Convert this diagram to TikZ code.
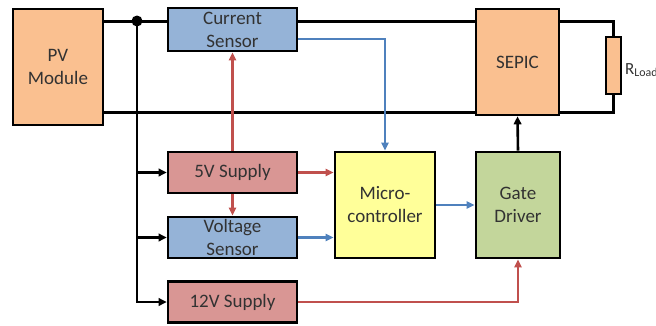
\documentclass[tikz,border=0pt]{standalone}
\usepackage{fontspec}
\setmainfont{Carlito}
\usepackage{xcolor}
\usetikzlibrary{arrows.meta}

\definecolor{pvorange}{RGB}{250,192,144}
\definecolor{sensblue}{RGB}{149,179,215}
\definecolor{supred}{RGB}{217,150,148}
\definecolor{mcyellow}{RGB}{255,255,153}
\definecolor{gdgreen}{RGB}{195,214,155}
\definecolor{linered}{RGB}{192,80,77}
\definecolor{lineblue}{RGB}{79,129,189}
\definecolor{txtgray}{RGB}{50,50,50}

\tikzset{
  blk/.style={draw=black, line width=2.6pt, text=txtgray, align=center,
    font=\fontsize{19}{23}\selectfont, inner sep=0pt},
  wire/.style={line width=3pt, line cap=rect},
  pwr/.style={draw=linered, line width=2.2pt, -{Triangle[length=8pt,width=7pt]}},
  sig/.style={draw=lineblue, line width=2.2pt, -{Triangle[length=8pt,width=7pt]}},
  feed/.style={line width=2.6pt, -{Triangle[length=8pt,width=7.5pt]}}
}

\begin{document}
\begin{tikzpicture}[x=1pt, y=-1pt]
  \clip (0,0) rectangle (656,325);
  \useasboundingbox (0,0) rectangle (656,325);

  % Power stage
  \node[blk, fill=pvorange, minimum width=90, minimum height=116] (pv) at (58,67) {PV\\Module};
  \node[blk, fill=pvorange, minimum width=83, minimum height=106] (sepic) at (517.5,62) {SEPIC};
  \node[blk, fill=pvorange, line width=2pt, minimum width=15, minimum height=57] (rload) at (613,65.5) {};
  \node[text=txtgray, font=\fontsize{17}{20}\selectfont, anchor=west, inner sep=0pt] (rlabel) at (625,70) {R\textsubscript{Load}};

  % Sensors and supplies
  \node[blk, fill=sensblue, minimum width=129, minimum height=43] (cs) at (232.5,29.5) {Current\\Sensor};
  \node[blk, fill=supred, minimum width=129, minimum height=41] (s5) at (232.5,172.5) {5V Supply};
  \node[blk, fill=sensblue, minimum width=129, minimum height=41] (vs) at (232.5,237.5) {Voltage\\Sensor};
  \node[blk, fill=supred, minimum width=129, minimum height=41] (s12) at (232.5,302) {12V Supply};

  % Control
  \node[blk, fill=mcyellow, minimum width=100, minimum height=106] (mc) at (385,205) {Micro-\\controller};
  \node[blk, fill=gdgreen, minimum width=84, minimum height=106] (gd) at (518,205) {Gate\\Driver};

  % Main wires
  \coordinate (dot) at (137,21);
  \coordinate (bot) at (137,112);
  \draw[wire] (pv.east|-dot) -- (dot) -- (cs.west|-dot);
  \draw[wire] (cs.east|-dot) -- (sepic.west|-dot);
  \draw[wire] (sepic.east|-dot) -| (rload.north);
  \draw[wire] (rload.south) |- (sepic.east|-bot);
  \draw[wire] (pv.east|-bot) -- (sepic.west|-bot);
  \fill (dot) circle (5.5);

  % Supply taps
  \draw[feed, line cap=rect] (dot) |- (s12.west);
  \draw[feed] (dot|-s5.west) -- (s5.west);
  \draw[feed] (dot|-vs.west) -- (vs.west);

  % Power connections
  \draw[pwr] (s5.north) -- (cs.south);
  \draw[pwr] (s5.south) -- (vs.north);
  \draw[pwr] (s5.east) -- (mc.west|-s5.east);
  \draw[pwr] (s12.east) -| (gd.south);

  % Signal connections
  \draw[sig] ([yshift=-9.5pt]cs.east) -| (mc.north);
  \draw[sig] (vs.east) -- (mc.west|-vs.east);
  \draw[sig] (mc.east) -- (gd.west);
  \draw[feed] (gd.north) -- (sepic.south);
\end{tikzpicture}
\end{document}
